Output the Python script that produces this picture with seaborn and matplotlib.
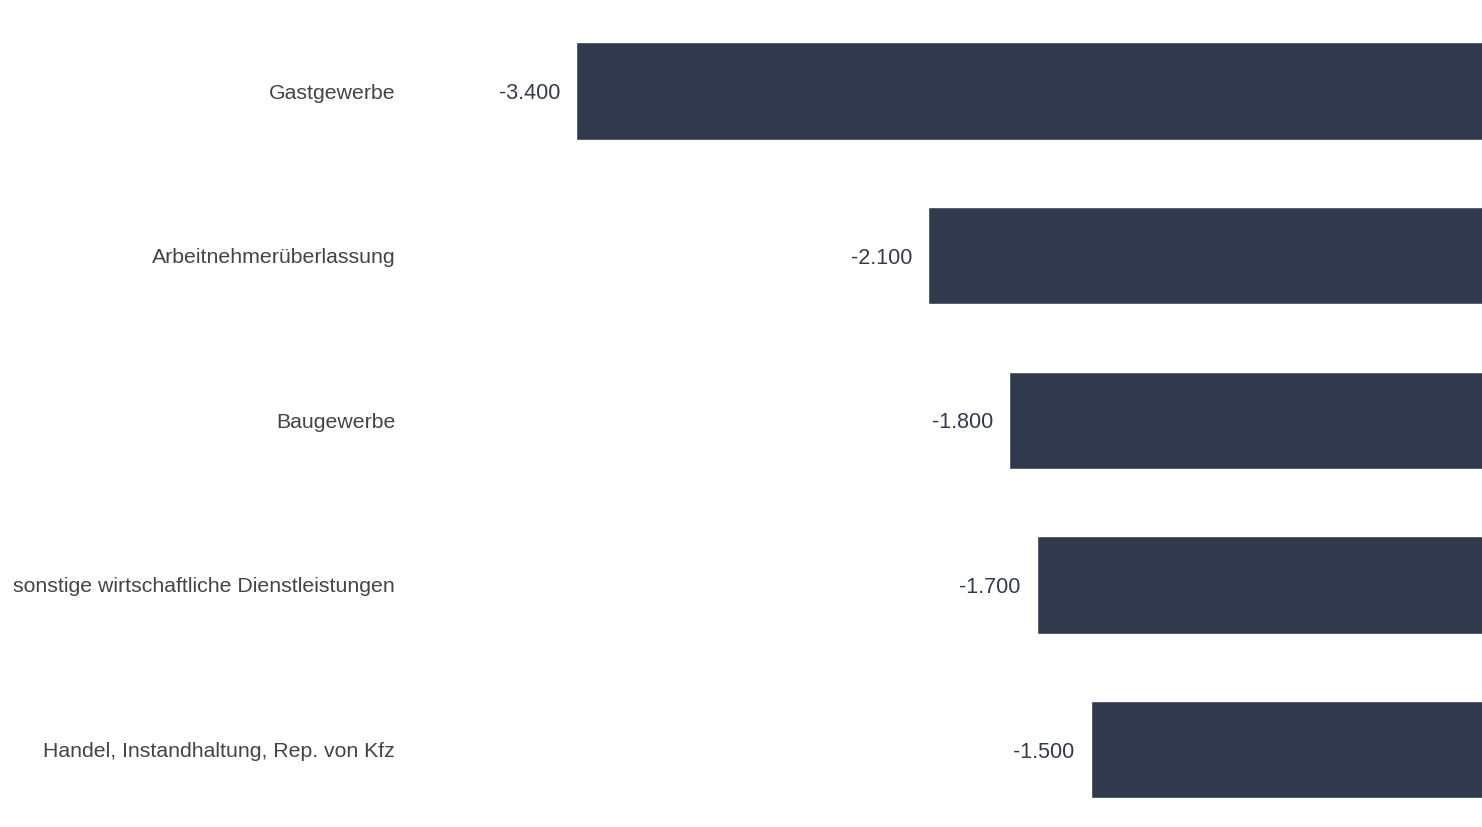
import pandas as pd
import seaborn as sns
import matplotlib.pyplot as plt

sns.set_theme(style="white")
plt.rcParams['font.family'] = ['Liberation Sans', 'DejaVu Sans']

branches = ["Gastgewerbe", "Arbeitnehmerüberlassung", "Baugewerbe",
            "sonstige wirtschaftliche Dienstleistungen",
            "Handel, Instandhaltung, Rep. von Kfz"]
values = [-3.4, -2.1, -1.8, -1.7, -1.5]
value_labels = ["-3.400", "-2.100", "-1.800", "-1.700", "-1.500"]

df = pd.DataFrame({"branche": branches, "wert": values})

fig = plt.figure(figsize=(14.82, 8.27), dpi=100)
ax = fig.add_axes([0.277, 0, 0.723, 1])
sns.barplot(data=df, x="wert", y="branche", color="#31394d", width=0.59,
            saturation=1, ax=ax)

ax.set_xlim(-4.012, -0.055)
ax.set_ylim(4.47, -0.553)
ax.set_xlabel("")
ax.set_ylabel("")
ax.set_xticks([])
ax.tick_params(axis="y", length=0, pad=11, labelsize=15.3, labelcolor="#444444")
sns.despine(ax=ax, left=True, bottom=True)

for i, (v, lab) in enumerate(zip(values, value_labels)):
    ax.text(v - 0.059, i, lab, ha="right", va="center_baseline", fontsize=15.5,
            color="#333a4d")

fig.savefig("out.png", dpi=100)
